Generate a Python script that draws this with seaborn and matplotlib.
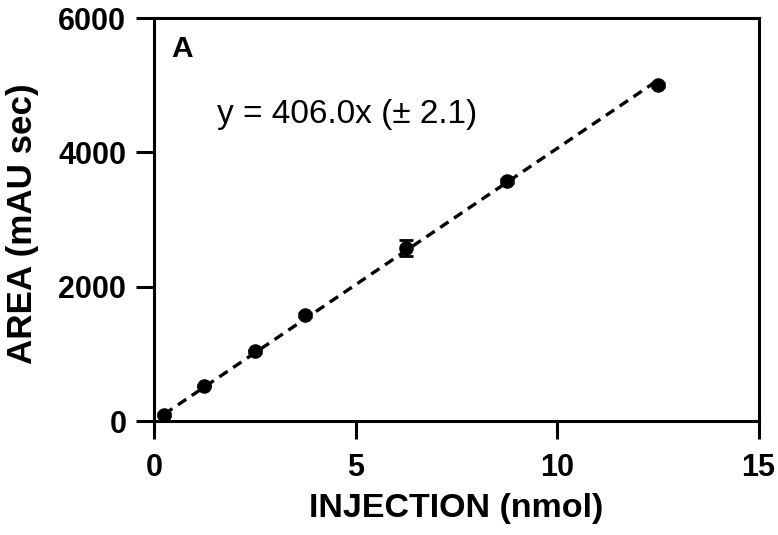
import matplotlib
matplotlib.use("Agg")
import matplotlib.pyplot as plt
import seaborn as sns
import numpy as np
import pandas as pd

# Data
injection = [0.25, 1.25, 2.5, 3.75, 6.25, 8.75, 12.5]
area = [95, 520, 1040, 1575, 2580, 3575, 5010]
area_err = [20, 20, 25, 30, 115, 35, 30]
slope = 406.0
fit_x = [0.25, 12.5]
x_ticks = [0, 5, 10, 15]
y_ticks = [0, 2000, 4000, 6000]

sns.set_theme(style="ticks")
plt.rcParams['font.family'] = ['Liberation Sans', 'DejaVu Sans']
plt.rcParams['text.color'] = 'black'
plt.rcParams['axes.labelcolor'] = 'black'
plt.rcParams['xtick.color'] = 'black'
plt.rcParams['ytick.color'] = 'black'

df = pd.DataFrame({"x": injection, "y": area})
fit_df = pd.DataFrame({"x": fit_x, "y": [slope * v for v in fit_x]})

fig = plt.figure(figsize=(7.78, 5.35), dpi=100)
ax = fig.add_axes([0.198, 0.213, 0.777, 0.753])

sns.lineplot(data=fit_df, x="x", y="y", ax=ax, color="black", lw=2.4,
             linestyle=(0, (3.0, 2.0)), zorder=2)
ax.errorbar(injection, area, yerr=area_err, fmt="none", ecolor="black",
            elinewidth=2, capsize=5, capthick=2, zorder=3)
sns.scatterplot(data=df, x="x", y="y", ax=ax, color="black", s=110,
                edgecolor="black", linewidth=0, zorder=4)

ax.set_xlim(0, 15)
ax.set_ylim(0, 6000)
ax.set_xticks(x_ticks)
ax.set_yticks(y_ticks)
ax.set_xticklabels([str(t) for t in x_ticks], fontsize=22, fontweight="bold")
ax.set_yticklabels([str(t) for t in y_ticks], fontsize=22, fontweight="bold")
ax.tick_params(axis="both", which="both", direction="out", length=13, width=2.2,
               color="black", labelcolor="black", top=False, right=False)
ax.tick_params(axis="y", pad=7)
ax.tick_params(axis="x", pad=10)
for side in ["left", "bottom", "top", "right"]:
    ax.spines[side].set_visible(True)
    ax.spines[side].set_linewidth(2.2)
    ax.spines[side].set_color("black")

ax.set_xlabel("INJECTION (nmol)", fontsize=24.5, fontweight="bold", labelpad=7, color="black")
ax.set_ylabel("AREA (mAU sec)", fontsize=25.2, fontweight="bold", color="black")
ax.yaxis.set_label_coords(-0.19, 0.49)

ax.text(0.42, 5540, "A", fontsize=21.5, fontweight="bold", va="center", ha="left", color="black")
ax.text(1.55, 4560, "y = 406.0x (\u00b1 2.1)", fontsize=24, va="center", ha="left", color="black")

fig.savefig("out.png", dpi=100)
